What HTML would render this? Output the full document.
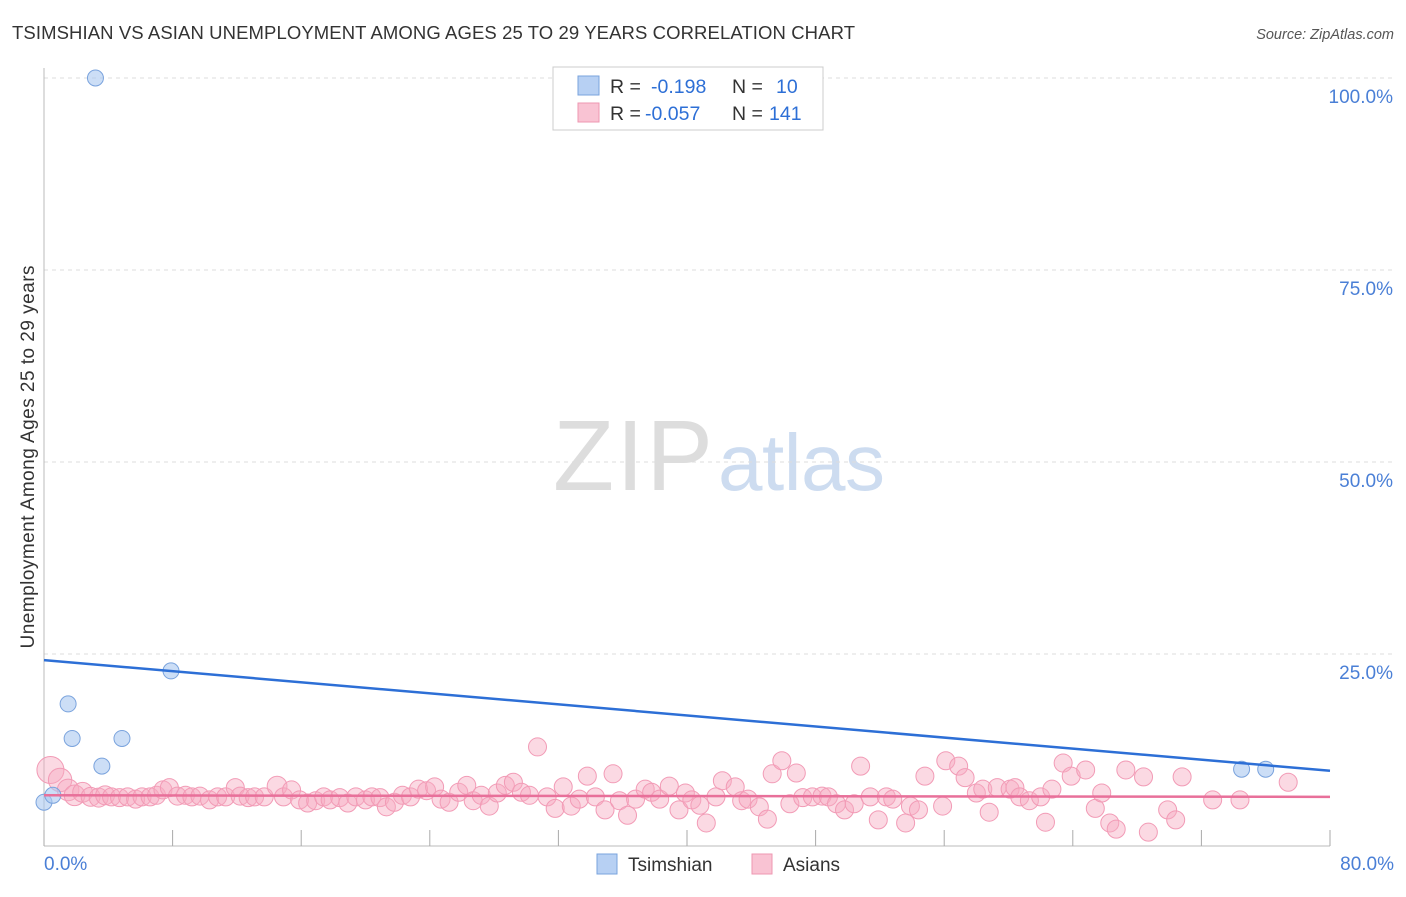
<!DOCTYPE html>
<html><head><meta charset="utf-8"><style>
body{margin:0;background:#fff;font-family:"Liberation Sans",sans-serif;}
svg text{font-family:"Liberation Sans",sans-serif;}
</style></head><body>
<svg width="1406" height="892" viewBox="0 0 1406 892">
<text x="12" y="39" font-size="18.5" fill="#333" textLength="843">TSIMSHIAN VS ASIAN UNEMPLOYMENT AMONG AGES 25 TO 29 YEARS CORRELATION CHART</text>
<text x="1394" y="39" font-size="14.5" fill="#555" font-style="italic" text-anchor="end">Source: ZipAtlas.com</text>
<text x="553" y="490" font-size="100" fill="#ddd" font-family="Liberation Serif" textLength="160">ZIP</text>
<text x="718" y="490" font-size="80" fill="#cddcf0" textLength="167">atlas</text>
<text transform="translate(34,457) rotate(-90)" font-size="19" fill="#333" text-anchor="middle" textLength="383">Unemployment Among Ages 25 to 29 years</text>
<g id="grid"></g><g id="axes"></g><g id="pts"></g><g id="lines"></g>
<g>
<rect x="553" y="67" width="270" height="63" fill="#fff" stroke="#ccc"/>
<rect x="578" y="76" width="21" height="19" fill="#b7d0f3" stroke="#7aa3dd"/>
<rect x="578" y="103" width="21" height="19" fill="#f9c3d3" stroke="#ee97b1"/>
<text y="93" font-size="19.5" fill="#333"><tspan x="610">R =</tspan><tspan x="651" fill="#2d6fd6">-0.198</tspan><tspan x="732">N =</tspan><tspan x="776" fill="#2d6fd6">10</tspan></text>
<text y="120" font-size="19.5" fill="#333"><tspan x="610">R =</tspan><tspan x="645" fill="#2d6fd6">-0.057</tspan><tspan x="732">N =</tspan><tspan x="769" fill="#2d6fd6">141</tspan></text>
</g>
<g>
<rect x="597" y="854" width="20" height="20" fill="#b7d0f3" stroke="#7aa3dd"/>
<text x="628" y="871" font-size="19" fill="#333">Tsimshian</text>
<rect x="752" y="854" width="20" height="20" fill="#f9c3d3" stroke="#ee97b1"/>
<text x="783" y="871" font-size="19" fill="#333">Asians</text>
</g>
</svg>
<script>
const yTicks=[25,50,75,100];
const yTickLabels=["25.0%","50.0%","75.0%","100.0%"];
const xTickLabels=["0.0%","80.0%"];
const tsX=[0,0.55,3.2,1.5,1.75,3.6,4.85,7.9,74.5,76];
const tsY=[5.7,6.6,100,18.5,14,10.4,14,22.8,10,10];
const tsTrend=[24.2,9.8];
const asTrend=[6.6,6.4];
const asX=[0.4,1.0,1.5,1.9,2.4,2.9,3.4,3.8,4.2,4.7,5.2,5.7,6.1,6.6,7.0,7.4,7.8,8.3,8.8,9.2,9.7,10.3,10.8,11.3,11.9,12.2,12.7,13.1,13.7,14.5,14.9,15.4,15.9,16.4,16.9,17.4,17.8,18.4,18.9,19.4,20.0,20.4,20.9,21.3,21.8,22.3,22.8,23.3,23.8,24.3,24.7,25.2,25.8,26.3,26.7,27.2,27.7,28.2,28.7,29.2,29.7,30.2,30.7,31.3,31.8,32.3,32.8,33.3,33.8,34.3,34.9,35.4,35.8,36.3,36.8,37.4,37.8,38.3,38.9,39.5,39.9,40.3,40.8,41.2,41.8,42.2,43.0,43.4,43.8,44.5,45.0,45.3,45.9,46.4,46.8,47.2,47.8,48.4,48.8,49.3,49.8,50.4,50.8,51.4,51.9,52.4,52.8,53.6,53.9,54.4,54.8,55.9,56.1,56.9,57.3,58.0,58.4,58.8,59.3,60.1,60.4,60.7,61.3,62.0,62.3,62.7,63.4,63.9,64.8,65.4,65.8,66.3,66.7,67.3,68.4,68.7,69.9,70.4,70.8,72.7,74.4,77.4];
const asY=[9.9,8.6,7.3,6.6,7.0,6.4,6.3,6.6,6.4,6.3,6.4,6.1,6.4,6.4,6.6,7.3,7.6,6.5,6.6,6.4,6.5,6.0,6.4,6.4,7.6,6.5,6.3,6.4,6.4,7.8,6.4,7.3,6.0,5.6,5.9,6.4,6.0,6.3,5.6,6.4,6.0,6.4,6.3,5.1,5.7,6.6,6.4,7.4,7.2,7.7,6.1,5.7,7.0,7.9,5.9,6.6,5.2,6.9,7.9,8.3,7.0,6.6,12.9,6.4,4.9,7.7,5.2,6.1,9.1,6.4,4.7,9.4,5.9,4.0,6.1,7.4,7.0,6.1,7.8,4.7,6.9,6.0,5.3,3.0,6.4,8.5,7.7,5.9,6.1,5.1,3.5,9.4,11.1,5.5,9.5,6.3,6.4,6.5,6.4,5.5,4.7,5.5,10.4,6.4,3.4,6.4,6.1,3.0,5.2,4.7,9.1,5.2,11.1,10.4,8.9,6.9,7.4,4.4,7.6,7.4,7.6,6.4,5.9,6.4,3.1,7.4,10.8,9.1,9.9,4.9,6.9,3.0,2.2,9.9,9.0,1.8,4.7,3.4,9.0,6.0,6.0,8.3];
const asW=[1.5,1.3,1.2,1.15,1.1,1.05,1.05,1.05,1,1,1,1,1,1,1,1,1,1,1,1,1,1,1,1,1,1,1,1,1,1.1];
const NS="http://www.w3.org/2000/svg";
const X0=44,X1=1330,Y0=846,Y100=78;
const xs=v=>X0+(X1-X0)*v/80;
const ys=v=>Y0-(Y0-Y100)*v/100;
function mk(tag,attrs,parent){const e=document.createElementNS(NS,tag);for(const k in attrs)e.setAttribute(k,attrs[k]);parent.appendChild(e);return e;}
const grid=document.getElementById('grid'),axes=document.getElementById('axes'),pts=document.getElementById('pts'),lines=document.getElementById('lines');
yTicks.forEach((t,i)=>{
 const l=mk('line',{x1:X0,x2:1394,y1:ys(t),y2:ys(t),stroke:'#ddd','stroke-dasharray':'4,4'},grid);
 
 
 const tx=mk('text',{x:1393,y:ys(t)+25,'font-size':19,fill:'#4a7fd6','text-anchor':'end'},axes);
 tx.textContent=yTickLabels[i];
 
 
});
const ax=mk('line',{x1:X0,x2:X0,y1:68,y2:Y0,stroke:'#bbb'},axes);


const bx=mk('line',{x1:X0,x2:X1,y1:Y0,y2:Y0,stroke:'#bbb'},axes);


for(let v=0;v<=80;v+=8){
 const t=mk('line',{x1:xs(v),x2:xs(v),y1:830,y2:Y0,stroke:'#aaa'},axes);
 
 
}
[[0,'start',44],[80,'end',1394]].forEach((a,i)=>{
 const tx=mk('text',{x:a[2],y:870,'font-size':19,fill:'#4a7fd6','text-anchor':a[1]},axes);
 tx.textContent=xTickLabels[i];
 
 
});
asX.forEach((x,i)=>{
 const c=mk('circle',{cx:xs(x),cy:ys(asY[i]),r:9*(asW[i]||1),fill:'rgba(247,170,194,0.45)',stroke:'#f29bb6','stroke-width':1},pts);
 
 
});
tsX.forEach((x,i)=>{
 const c=mk('circle',{cx:xs(x),cy:ys(tsY[i]),r:8,fill:'rgba(170,200,240,0.6)',stroke:'#7aa3dd','stroke-width':1},pts);
 
 
});
const l1=mk('line',{x1:xs(0),x2:xs(80),y1:ys(tsTrend[0]),y2:ys(tsTrend[1]),stroke:'#2d6fd6','stroke-width':2.5},lines);


const l2=mk('line',{x1:xs(0),x2:xs(80),y1:ys(asTrend[0]),y2:ys(asTrend[1]),stroke:'#e8709a','stroke-width':2.5},lines);


</script>
</body></html>
